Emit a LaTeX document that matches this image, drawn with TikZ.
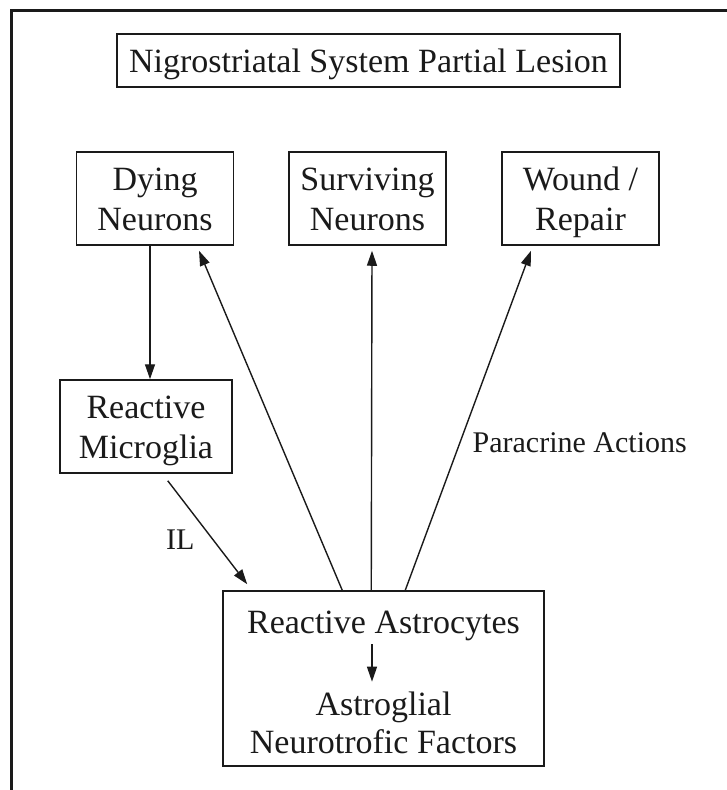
\documentclass[tikz,border=0pt]{standalone}
\usepackage{fontspec}
\setmainfont{Liberation Serif}
\usetikzlibrary{arrows.meta}
\definecolor{Ink}{HTML}{1A1A1A}

\tikzset{
  box/.style={draw=Ink, line width=1.5pt, text=Ink, font=\fontsize{34pt}{40pt}\selectfont, align=center, inner sep=0pt},
  cell/.style={box, minimum width=157pt, minimum height=93pt, text height=63pt, text depth=0pt},
  arr/.style={draw=Ink, line width=1.4pt, -{Triangle[length=15pt,width=10pt]}},
  lbl/.style={text=Ink, font=\fontsize{30pt}{36pt}\selectfont, inner sep=0pt},
}

\begin{document}
\begin{tikzpicture}[x=1pt, y=-1pt]
 \useasboundingbox (0,0) rectangle (727,790);

 %%%%%%%%%% Cadre %%%%%%%%%%
 \draw[Ink, line width=3pt] (11.5,800) -- (11.5,10) -- (740,10);

 %%%%%%%%%% Boites %%%%%%%%%%
 \node[box, minimum width=503pt, minimum height=53pt, text height=23pt, text depth=0pt] (lesion) at (368.5,60.5) {Nigrostriatal System Partial Lesion};
 \node[cell] (dying) at (155,198.5) {Dying\\Neurons};
 \node[cell] (surviving) at (367.5,198.5) {Surviving\\Neurons};
 \node[cell] (wound) at (580.5,198.5) {Wound /\\Repair};
 \node[cell, minimum width=172pt] (microglia) at (146,426.5) {Reactive\\Microglia};

 % Astrocytes
 \node[box, minimum width=321pt, minimum height=175pt] (astrocytes) at (383.5,678.5) {};
 \node[box, draw=none, anchor=base] (reactive) at (383.5,633) {Reactive Astrocytes};
 \node[box, draw=none, anchor=base] (astroglial) at (383.5,715) {Astroglial};
 \node[box, draw=none, anchor=base] (factors) at (383.5,753) {Neurotrofic Factors};

 %%%%%%%%%% Fleches %%%%%%%%%%
 \draw[arr] ([xshift=-5pt]dying.south) -- ([xshift=-5pt]dying.south |- microglia.north);
 \draw[arr] ([xshift=-65pt,yshift=-7pt]microglia.south east) -- ([xshift=25pt,yshift=6pt]astrocytes.north west)
   node[lbl, pos=0.57, left=18pt] {IL};
 \draw[arr, shorten <=3pt, shorten >=9pt] ([xshift=-11.5pt]reactive.south) -- ([xshift=-11.5pt]astroglial.north);

 % Paracrine
 \draw[arr] ([xshift=120pt]astrocytes.north west) -- ([xshift=44pt,yshift=-5pt]dying.south);
 \draw[arr] ([xshift=149pt]astrocytes.north west) -- ([xshift=4.5pt,yshift=-5pt]surviving.south);
 \draw[arr] ([xshift=183pt]astrocytes.north west) -- ([xshift=-49.5pt,yshift=-5pt]wound.south)
   node[lbl, pos=0.435, right=12pt] {Paracrine Actions};

\end{tikzpicture}
\end{document}
